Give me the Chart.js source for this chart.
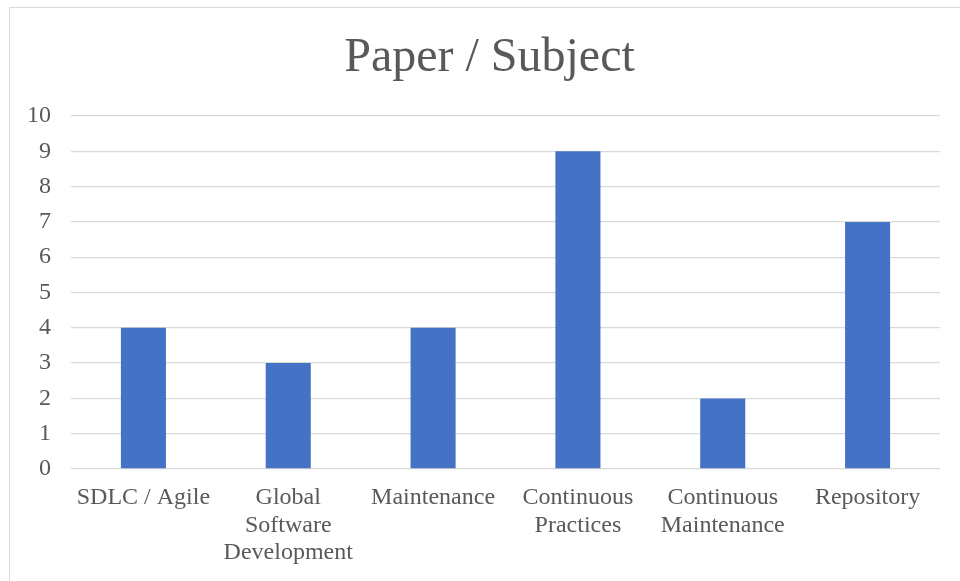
<!DOCTYPE html>
<html>
<head>
<meta charset="utf-8">
<script src="https://cdn.jsdelivr.net/npm/chart.js@4/dist/chart.umd.min.js"></script>
<style>
  html, body { margin: 0; padding: 0; background: #fff; overflow: hidden; }
  #frame { position: absolute; left: 9px; top: 7px; width: 1000px; height: 700px; border: 1px solid #d9d9d9; }
  #wrap { position: absolute; left: 0; top: 0; width: 960px; height: 581px; }
</style>
</head>
<body>
<div id="frame"></div>
<div id="wrap"><canvas id="c" width="960" height="581"></canvas></div>
<script>
const categories = [
  "SDLC / Agile",
  ["Global", "Software", "Development"],
  "Maintenance",
  ["Continuous", "Practices"],
  ["Continuous", "Maintenance"],
  "Repository"
];
const paperCounts = [4, 3, 4, 9, 2, 7];
const yTicks = [0, 1, 2, 3, 4, 5, 6, 7, 8, 9, 10];

const textColor = '#595959';
const serif = '"Liberation Serif", "Times New Roman", serif';

const titleShift = {
  id: 'titleShift',
  afterLayout(chart) {
    if (chart.titleBlock) { chart.titleBlock.left += 39; }
  }
};

new Chart(document.getElementById('c'), {
  type: 'bar',
  data: {
    labels: categories,
    datasets: [{
      label: 'Paper / Subject',
      data: paperCounts,
      backgroundColor: '#4472C4',
      borderWidth: 0,
      categoryPercentage: 1,
      barPercentage: 0.311
    }]
  },
  plugins: [titleShift],
  options: {
    responsive: false,
    animation: false,
    devicePixelRatio: 1,
    layout: { padding: { left: 0, right: 20, top: 0, bottom: 0 } },
    plugins: {
      legend: { display: false },
      tooltip: { enabled: false },
      title: {
        display: true,
        text: 'Paper / Subject',
        color: textColor,
        font: { family: serif, size: 48, weight: 'normal', lineHeight: 1.2 },
        padding: { top: 30, bottom: 28.4 }
      }
    },
    scales: {
      x: {
        grid: { display: false, drawTicks: false },
        border: { display: false },
        ticks: {
          color: textColor,
          font: { family: serif, size: 24, lineHeight: 1.15 },
          padding: 15,
          maxRotation: 0,
          autoSkip: false
        },
        afterFit: (s) => { s.height = 112; }
      },
      y: {
        min: 0,
        max: 10,
        afterBuildTicks: (s) => { s.ticks = yTicks.map(v => ({ value: v })); },
        grid: { color: '#d9d9d9', lineWidth: 1.3, drawTicks: false },
        border: { display: false },
        ticks: {
          color: textColor,
          font: { family: serif, size: 24 },
          padding: 20
        },
        afterFit: (s) => { s.width = 71; }
      }
    }
  }
});
</script>
</body>
</html>
